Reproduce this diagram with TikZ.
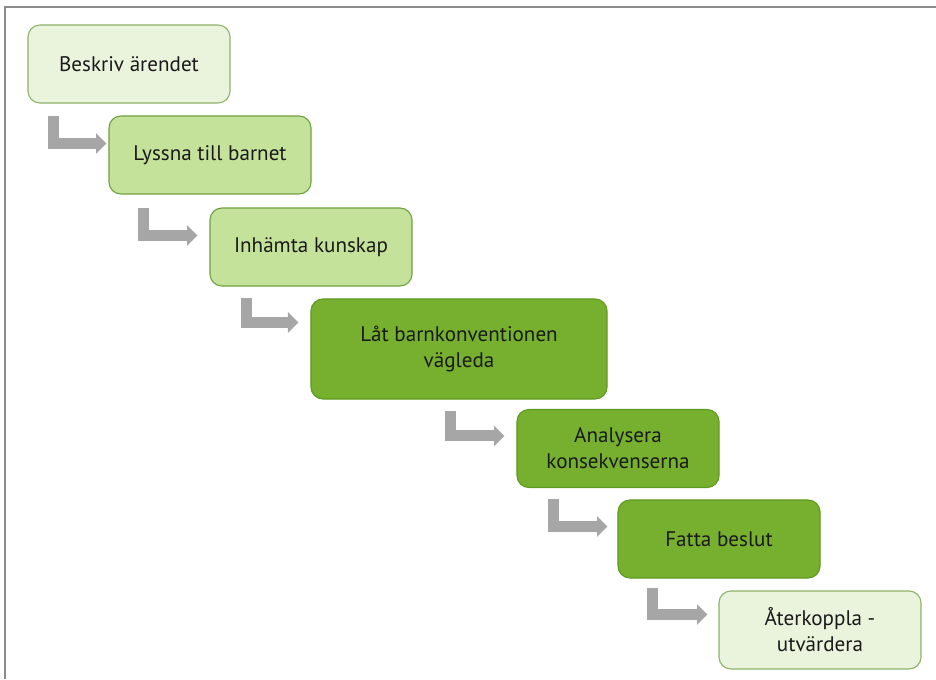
\documentclass[tikz,border=0pt]{standalone}
\usepackage{fontspec}
\setmainfont{PT Sans}
\usepackage{xcolor}
\usepackage{tikz}
\usetikzlibrary{calc,arrows.meta,positioning}

\definecolor{lightfill}{HTML}{EAF3DC}
\definecolor{lightline}{HTML}{8DB46A}
\definecolor{midfill}{HTML}{C5E29A}
\definecolor{midline}{HTML}{6FA040}
\definecolor{darkfill}{HTML}{76B02E}
\definecolor{darkline}{HTML}{5E9A22}
\definecolor{arrowgray}{HTML}{A6A6A6}
\definecolor{framegray}{HTML}{8C8C8C}
\definecolor{textdark}{HTML}{1A1A1A}

\begin{document}
\begin{tikzpicture}[x=0.025cm, y=-0.025cm,
    stepbox/.style={draw, line width=0.8pt, rounded corners=0.3cm,
      minimum width=5.05cm, minimum height=1.95cm, align=center,
      text=textdark, font=\fontsize{15pt}{18.5pt}\selectfont},
    lightbox/.style={stepbox, fill=lightfill, draw=lightline},
    midbox/.style={stepbox, fill=midfill, draw=midline},
    darkbox/.style={stepbox, fill=darkfill, draw=darkline},
    flow/.style={draw=arrowgray, line width=0.275cm, line join=miter,
      -{Triangle[length=0.26cm, width=0.5cm]}}]

    \useasboundingbox (0,0) rectangle (936,679);

% the frame

    \draw[framegray, line width=1.4pt] (936,7) -- (5,7) -- (5,679);

% the steps

    \node[lightbox] (beskriv) at (129,64) {Beskriv ärendet};
    \node[midbox] (lyssna) at (210,155) {Lyssna till barnet};
    \node[midbox] (inhamta) at (311,247) {Inhämta kunskap};
    \node[darkbox, minimum width=7.4cm, minimum height=2.5cm] (lat) at (459,349)
      {Låt barnkonventionen\\vägleda};
    \node[darkbox] (analysera) at (618,448.5) {Analysera\\konsekvenserna};
    \node[darkbox] (fatta) at (719,539) {Fatta beslut};
    \node[lightbox] (aterkoppla) at (820,630) {Återkoppla -\\utvärdera};

% the bent arrows

    \draw[flow] ($(beskriv.south -| lyssna.west)+(-55,12)$) |- ($(lyssna.north west)+(-2,28)$);
    \draw[flow] ($(lyssna.south -| inhamta.west)+(-66,13)$) |- ($(inhamta.north west)+(-12,28)$);
    \draw[flow] ($(inhamta.south -| lat.west)+(-64,11)$) |- ($(lat.north west)+(-12,24)$);
    \draw[flow] ($(lat.south -| analysera.west)+(-66,11)$) |- ($(analysera.north west)+(-12,27)$);
    \draw[flow] ($(analysera.south -| fatta.west)+(-64,11)$) |- ($(fatta.north west)+(-10,27)$);
    \draw[flow] ($(fatta.south -| aterkoppla.west)+(-66,9)$) |- ($(aterkoppla.north west)+(-11,24)$);

\end{tikzpicture}
\end{document}
